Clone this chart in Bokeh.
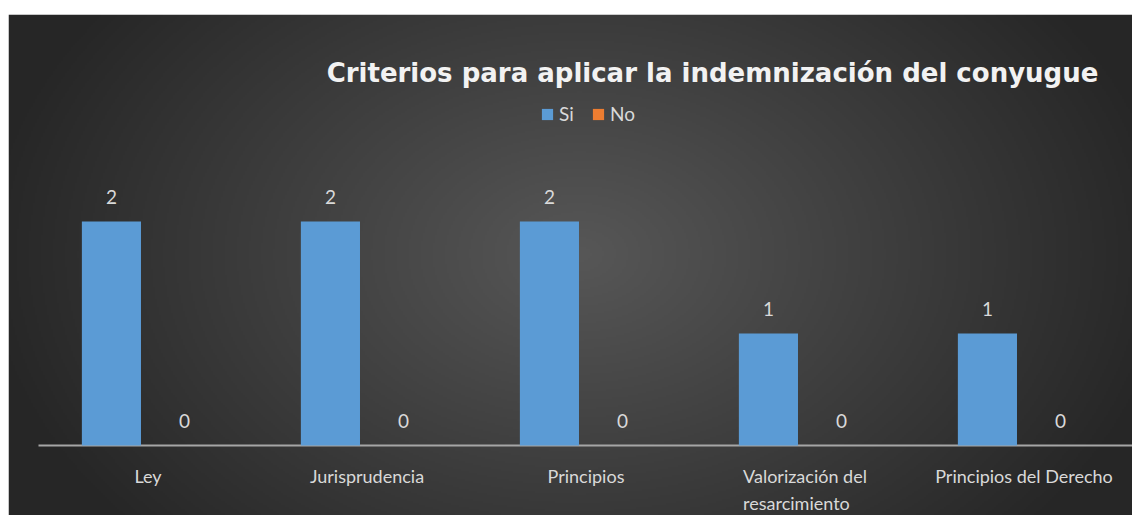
import numpy as np
from bokeh.plotting import figure
from bokeh.models import (ColumnDataSource, Range1d, LabelSet, Label, Legend,
                          LegendItem)
from bokeh.core.properties import value
from bokeh.transform import dodge
from bokeh.embed import file_html
from bokeh.resources import INLINE

# ---- data ----
categories = ["Ley", "Jurisprudencia", "Principios",
              "Valorización del\nresarcimiento", "Principios del Derecho"]
si_values = [2, 2, 2, 1, 1]
no_values = [0, 0, 0, 0, 0]
series_names = ["Si", "No"]
title_text = "Criterios para aplicar la indemnización del conyugue"

FONT = "Lato"
TXT = "#d9d9d9"

idx = list(range(len(categories)))
src = ColumnDataSource(dict(
    idx=idx, cat=categories, si=si_values, no=no_values,
    si_lbl=[str(v) for v in si_values], no_lbl=[str(v) for v in no_values],
    zero=[0] * len(categories)))

W, H = 1132, 515
BL, BT = 8, 14
p = figure(width=W, height=H, output_backend="svg", toolbar_location=None,
           x_range=Range1d(-0.637, 4.4954), y_range=Range1d(-0.625, 3.848),
           min_border_left=BL, min_border_top=BT, min_border_right=0,
           min_border_bottom=0, border_fill_color="white",
           outline_line_color=None)
p.xaxis.visible = False
p.yaxis.visible = False
p.xgrid.visible = False
p.ygrid.visible = False

# ---- radial gradient background (decoration) ----
fw, fh = W - BL, H - BT
fx0, fy0 = 9, 15  # frame origin in picture coords
nx, ny = fw // 2, fh // 2
xs = (np.arange(nx) + 0.5) / nx * fw + fx0
ys = fy0 + fh - (np.arange(ny) + 0.5) / ny * fh  # row 0 = bottom
X, Y = np.meshgrid(xs, ys)
t = np.sqrt(((X - 580) / 600.0) ** 2 + ((Y - 255) / 420.0) ** 2)
t = np.clip(t, 0, 1)
g = (87 - 49 * t).astype(np.uint32)
img = (255 << 24) | (g << 16) | (g << 8) | g
x0, x1 = p.x_range.start, p.x_range.end
y0, y1 = p.y_range.start, p.y_range.end
p.image_rgba(image=[img.astype(np.uint32)], x=x0, y=y0, dw=x1 - x0, dh=y1 - y0)

# ---- axis line ----
p.line(x=[-0.5, len(categories) - 0.5], y=[0, 0], line_color="#a6a6a6",
       line_width=2)

# ---- bars ----
off = 0.167
bw = 0.27
r_si = p.vbar(x=dodge("idx", -off, range=p.x_range), top="si", width=bw,
              source=src, fill_color="#5b9bd5", line_color=None)
r_no = p.vbar(x=dodge("idx", off, range=p.x_range), top="no", width=bw,
              source=src, fill_color="#ed7d31", line_color=None)

# ---- data labels ----
for col, lbl, o in (("si", "si_lbl", -off), ("no", "no_lbl", off)):
    p.add_layout(LabelSet(x=dodge("idx", o, range=p.x_range), y=col, text=lbl,
                          source=src, text_align="center",
                          text_baseline="alphabetic", y_offset=17,
                          text_font=value(FONT), text_font_size="19px",
                          text_color=TXT))

# ---- category labels ----
p.add_layout(LabelSet(x="idx", y="zero", text="cat", source=src,
                      text_align="center", text_baseline="top", y_offset=-20,
                      text_font=value(FONT), text_font_size="18px",
                      text_color=TXT, text_line_height=1.2))

# ---- title ----
p.add_layout(Label(x=704, y=443, x_units="screen", y_units="screen",
                   text=title_text, text_align="center",
                   text_baseline="alphabetic", text_font="DejaVu Sans",
                   text_font_size="26px", text_font_style="bold",
                   text_color="#f2f2f2"))

# ---- legend ----
legend = Legend(items=[LegendItem(label=series_names[0], renderers=[r_si]),
                       LegendItem(label=series_names[1], renderers=[r_no])],
                orientation="horizontal", location=(532, 390),
                glyph_width=14, glyph_height=14, label_standoff=5, spacing=12,
                padding=0, margin=0, border_line_alpha=0,
                background_fill_alpha=0, label_text_font=FONT,
                label_text_font_size="19px", label_text_color=TXT,
                label_height=20)
p.add_layout(legend, "center")

open("out.html", "w").write(file_html(p, INLINE))
